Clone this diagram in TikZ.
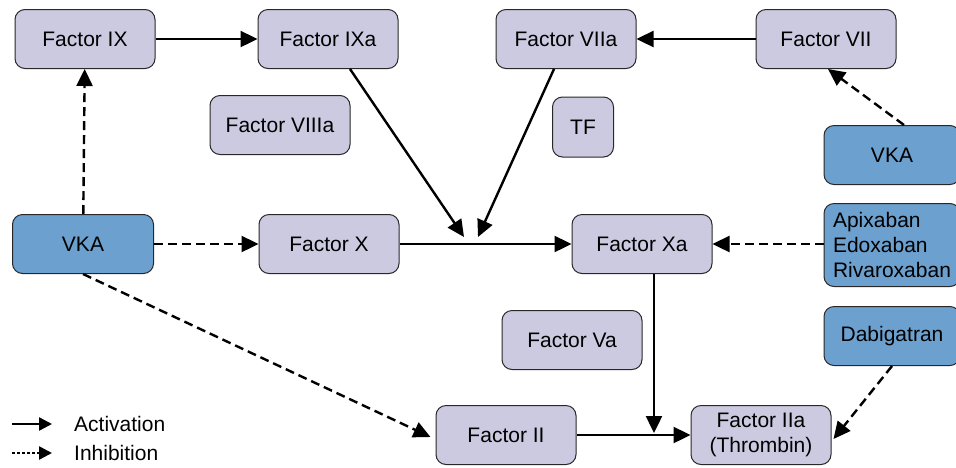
\documentclass[tikz,border=0pt]{standalone}
\usepackage{fontspec}
\setmainfont{Liberation Sans}
\usetikzlibrary{arrows.meta,positioning}
\definecolor{factorfill}{RGB}{204,202,224}
\definecolor{drugfill}{RGB}{108,160,206}
\definecolor{boxline}{RGB}{40,40,40}

\begin{document}
\begin{tikzpicture}[x=1pt,y=-1pt,
factor/.style={draw=boxline,fill=factorfill,rounded corners=10pt,line width=1pt,
  minimum width=140pt,minimum height=59pt,font=\fontsize{21}{25}\selectfont,align=center},
drug/.style={factor,fill=drugfill,minimum width=136pt,align=left},
act/.style={-{Triangle[length=17pt,width=16pt]},line width=2.4pt},
inh/.style={act,dash pattern=on 9pt off 5pt},
legtxt/.style={anchor=west,font=\fontsize{21}{25}\selectfont,inner sep=0pt}]
\useasboundingbox (0,0) rectangle (956,467);
\node[factor] (F9) at (85,39) {Factor IX};
\node[factor] (F9a) at (328,39) {Factor IXa};
\node[factor] (F7a) at (566,39) {Factor VIIa};
\node[factor] (F7) at (826,39) {Factor VII};
\node[factor] (F8a) at (280,125) {Factor VIIIa};
\node[factor,minimum width=61pt,minimum height=60pt] (TF) at (583,127) {TF};
\node[drug] (VKAr) at (892,155) {VKA};
\node[drug,minimum height=83pt] (Xab) at (892,245) {Apixaban\\Edoxaban\\Rivaroxaban};
\node[drug,minimum width=141pt] (VKAl) at (83,244) {VKA};
\node[factor] (F10) at (329,244) {Factor X};
\node[factor] (F10a) at (642,244) {Factor Xa};
\node[factor] (F5a) at (572,340) {Factor Va};
\node[drug] (Dab) at (892,336) {Dabigatran};
\node[factor] (F2) at (506,435) {Factor II};
\node[factor,inner ysep=2pt] (F2a) at (761,435) {Factor IIa\\(Thrombin)};
% junction points
\coordinate (J9) at (464,237);
\coordinate (J7) at (478,237);
\coordinate (J10) at (654,433);
% activation
\draw[act] (F9) -- (F9a);
\draw[act] (F7) -- (F7a);
\draw[act] (F10) -- (F10a);
\draw[act] ([xshift=22pt]F9a.south) -- (J9);
\draw[act] ([xshift=-12pt]F7a.south) -- (J7);
\draw[act] ([xshift=12pt]F10a.south) -- (J10);
\draw[act] (F2) -- (F2a);
% inhibition
\draw[inh] (VKAl) -- (F9);
\draw[inh] (VKAl) -- (F10);
\draw[inh] (VKAl.south) -- ([xshift=-5pt,yshift=-2pt]F2.west);
\draw[inh] ([xshift=12pt]VKAr.north) -- ([xshift=2pt]F7.south);
\draw[inh] (Xab.west |- F10a.east) -- (F10a.east);
\draw[inh] (Dab.south) -- ([xshift=2pt,yshift=-4pt]F2a.east);
% legend
\coordinate (LA1) at (12,424);
\coordinate (LA2) at (52,424);
\coordinate (LI1) at (12,453);
\coordinate (LI2) at (52,453);
\draw[-{Triangle[length=13pt,width=13pt]},line width=2.4pt] (LA1) -- (LA2);
\draw[-{Triangle[length=13pt,width=13pt]},line width=2.4pt,dash pattern=on 3pt off 2pt] (LI1) -- (LI2);
\node[legtxt] (LAt) at (74,424) {Activation};
\node[legtxt] (LIt) at (74,453) {Inhibition};
\end{tikzpicture}
\end{document}
